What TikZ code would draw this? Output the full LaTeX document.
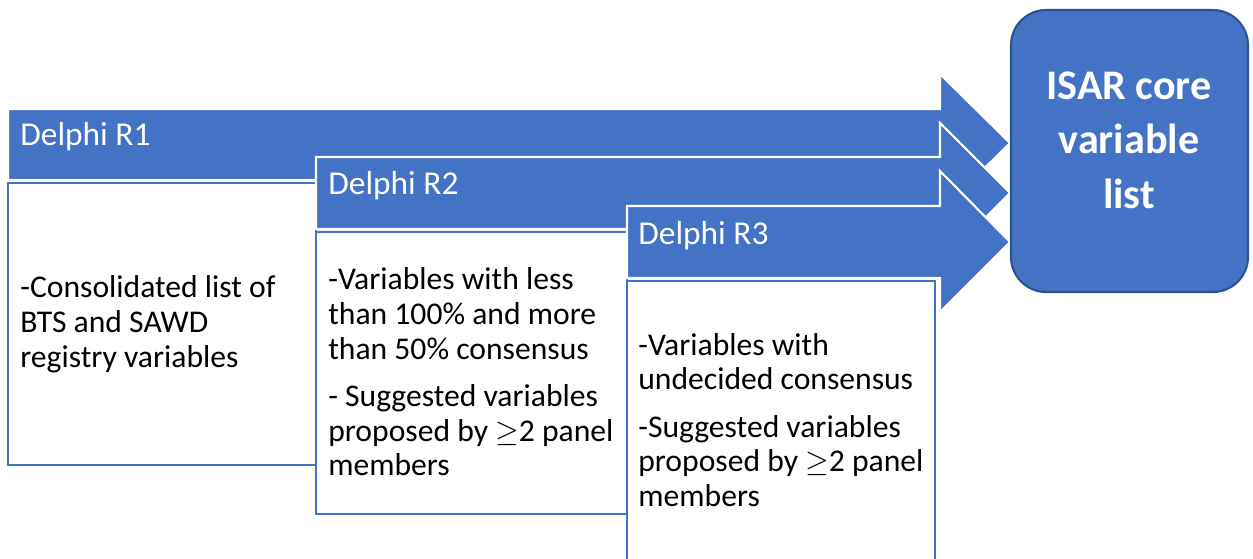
\documentclass[tikz,border=0pt]{standalone}
\usepackage{fontspec}
\setmainfont{Carlito}
\definecolor{delphiblue}{RGB}{68,114,196}
\definecolor{delphidark}{RGB}{47,82,143}
\tikzset{
  stage arrow/.style={
    fill=delphiblue,
    draw=white, line width=1.2pt,
    line join=miter},
  stage box/.style={
    fill=white,
    draw=delphiblue, line width=1.2pt},
  stage title/.style={
    anchor=west, inner sep=0pt,
    text=white,
    font=\fontsize{19}{22}\selectfont},
  stage text/.style={
    anchor=west, inner sep=0pt,
    align=left,
    font=\fontsize{18}{19.8}\selectfont},
}

\begin{document}
\begin{tikzpicture}[
    x=0.02cm, y=-0.02cm,
    goal box/.style={fill=delphiblue, draw=delphidark, line width=1.2pt,
      rounded corners=20pt},
    goal text/.style={text=white, align=center,
      font=\bfseries\fontsize{24}{31}\selectfont}
    ]
    \useasboundingbox (0,0) rectangle (1253,558);

    % round 1
    \draw[stage arrow] (8,109) -- (940,109) -- (940,74) -- (1010,143)
         -- (940,212) -- (940,180) -- (8,180) -- cycle;
    \draw[stage box] (8,183) rectangle (316,465);
    \node[stage title] (r1title) at (20,137) {Delphi R1};
    \node[stage text] (r1text) at (20,324)
         {-Consolidated list of\\BTS and SAWD\\registry variables};

    % round 2
    \draw[stage arrow] (316,157) -- (940,157) -- (940,123) -- (1010,193)
         -- (940,263) -- (940,229) -- (316,229) -- cycle;
    \draw[stage box] (316,232) rectangle (627,514);
    \node[stage title] (r2title) at (328,186) {Delphi R2};
    \node[stage text] (r2text) at (328,372)
         {-Variables with less\\than 100\% and more\\than 50\% consensus\\[7pt]
          - Suggested variables\\proposed by $\geq$2 panel\\members};

    % round 3
    \draw[stage arrow] (627,206) -- (940,206) -- (940,171) -- (1010,242)
         -- (940,312) -- (940,278) -- (627,278) -- cycle;
    \draw[stage box] (627,281) rectangle (935,562);
    \node[stage title] (r3title) at (638,236) {Delphi R3};
    \node[stage text] (r3text) at (638,420)
         {-Variables with\\undecided consensus\\[7pt]
          -Suggested variables\\proposed by $\geq$2 panel\\members};

    % outcome
    \draw[goal box] (1011,10) rectangle (1248,292);
    \node[goal text] (isar) at (1129,140) {ISAR core\\variable\\list};

\end{tikzpicture}
\end{document}
